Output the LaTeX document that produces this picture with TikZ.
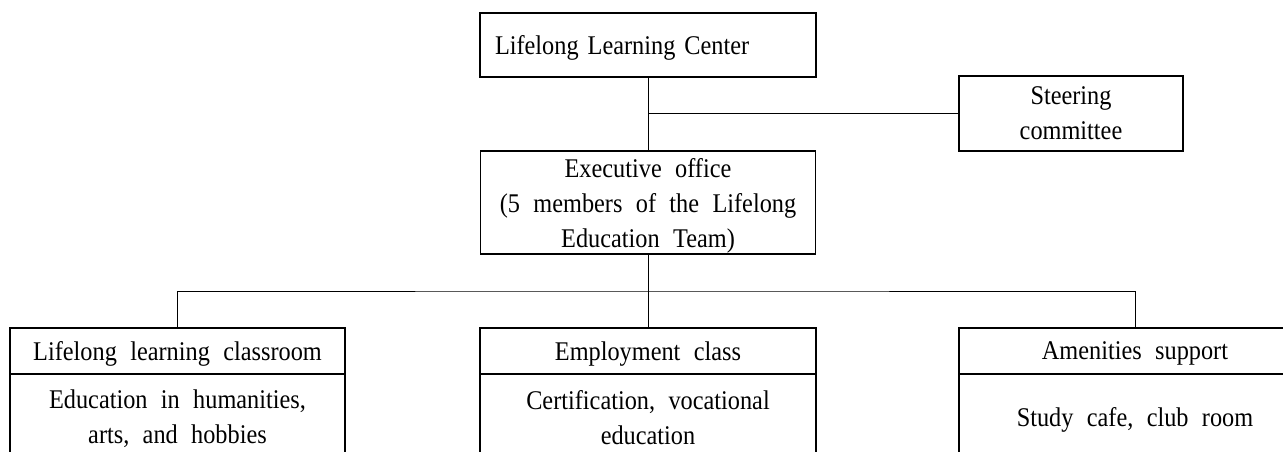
\documentclass[tikz,border=0pt]{standalone}
\usepackage{fontspec}
\setmainfont{Liberation Serif}[FakeStretch=0.9,WordSpace=2.2]
\usepackage{tikz}

\begin{document}
\begin{tikzpicture}[x=1pt, y=-1pt,
        box/.style={draw, line width=1.1pt, inner sep=0pt, align=center, text depth=0pt,
            font=\fontsize{27}{35}\selectfont},
        conn/.style={line width=1pt}]

        \useasboundingbox (0,0) rectangle (1283,452);

        % top of the chart
        \node [box, minimum width=336, minimum height=64, text width=306, align=left] (center) at (648,45) {Lifelong Learning Center};
        \node [box, minimum width=224, minimum height=75] (steering) at (1071,113.5) {Steering\\committee};
        \node [box, minimum width=335, minimum height=103] (exec) at (648,202.5) {Executive office\\(5 members of the Lifelong\\Education Team)};

        % the three units
        \node [box, minimum width=335, minimum height=46] (classroom) at (177.5,351) {Lifelong learning classroom};
        \node [box, minimum width=335, minimum height=86] (classroomBody) at (177.5,417) {Education in humanities,\\arts, and hobbies};
        \node [box, minimum width=336, minimum height=46] (employ) at (648,351) {Employment class};
        \node [box, minimum width=336, minimum height=86] (employBody) at (648,417) {Certification, vocational\\education};
        \node [box, minimum width=352, minimum height=46] (amenity) at (1135,351) {Amenities support};
        \node [box, minimum width=352, minimum height=86] (amenityBody) at (1135,417) {Study cafe, club room};

        % connectors
        \draw [conn] (center.south) -- (exec.north);
        \draw [conn] (steering.west) -- (steering.west -| center.south);
        \coordinate (bus) at (648,291);
        \draw [conn] (exec.south) -- (bus);
        \draw [conn] (classroom.north) |- (bus) -| (amenity.north);
        \draw [conn] (bus) -- (employ.north);
    \end{tikzpicture}
\end{document}
